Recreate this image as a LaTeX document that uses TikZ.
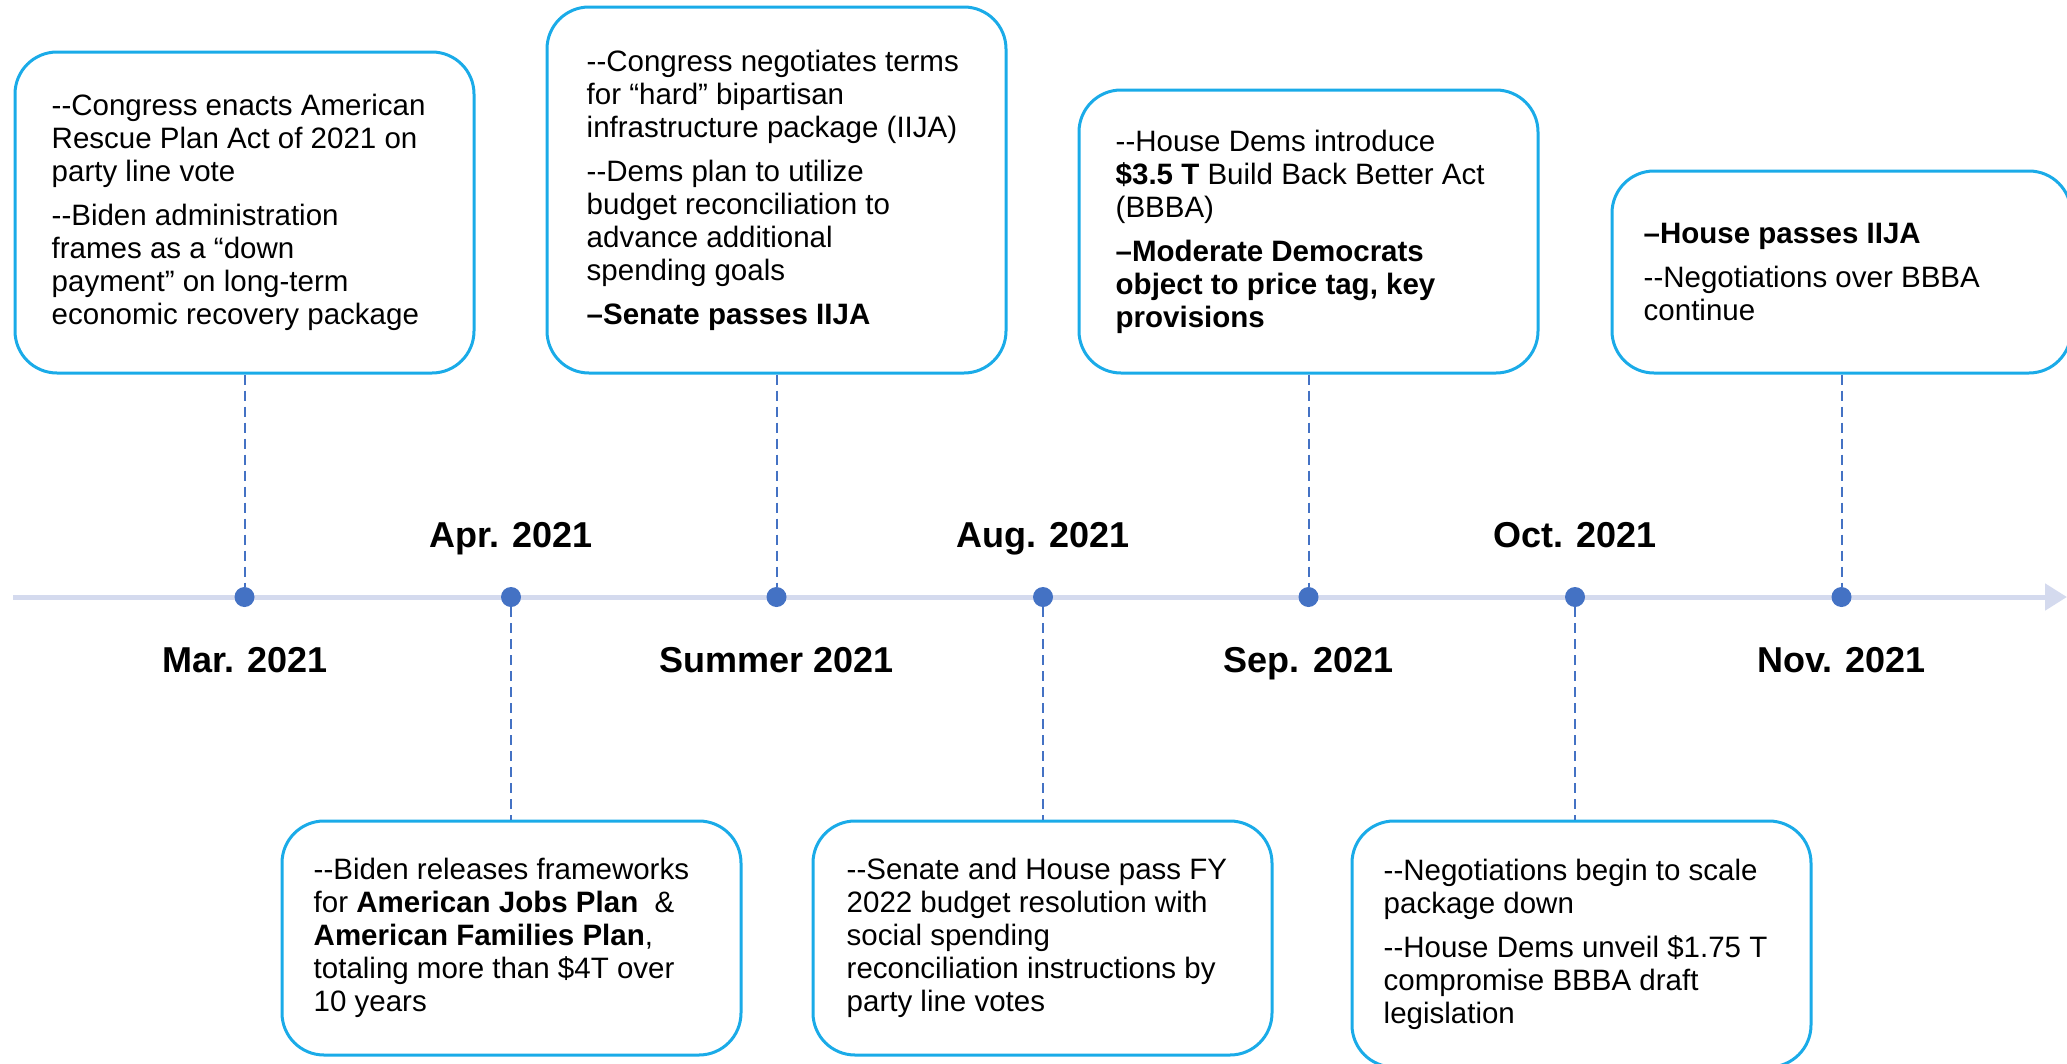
\documentclass[tikz,border=0pt]{standalone}
\usepackage{fontspec}
\setmainfont{Liberation Sans}
\usetikzlibrary{arrows.meta}
\definecolor{boxblue}{HTML}{1AABE8}
\definecolor{dotblue}{HTML}{4472C4}
\definecolor{tlgray}{HTML}{D4DAEE}
\tikzset{
  evbox/.style={draw=boxblue, line width=3pt, rounded corners=42pt, inner sep=0pt},
  evtext/.style={anchor=west, align=left, inner sep=0pt, font=\fontsize{29.5}{33}\selectfont},
  evdot/.style={circle, fill=dotblue, inner sep=0pt, minimum size=20pt},
  evlink/.style={draw=dotblue, line width=2pt, dash pattern=on 10pt off 6pt},
  datelabel/.style={font=\fontsize{36}{40}\selectfont\bfseries, anchor=base, inner sep=0pt},
  timeline/.style={draw=tlgray, line width=5pt, -{Triangle[length=22pt,width=26pt]}},
}
\begin{document}
\begin{tikzpicture}[x=1pt,y=-1pt]
\useasboundingbox (0,0) rectangle (2067,1063);
\clip (0,0) rectangle (2067,1063);
% timeline
\coordinate (tlstart) at (13,597);
\coordinate (tlend) at (2067,597);
\draw[timeline] (tlstart) -- (tlend);
% boxes
\node[evbox, minimum width=459pt, minimum height=321pt] (b1) at (244.5,212.5) {};
\node[evbox, minimum width=459pt, minimum height=366pt] (b2) at (776.5,190) {};
\node[evbox, minimum width=459pt, minimum height=283pt] (b3) at (1308.5,231.5) {};
\node[evbox, minimum width=459pt, minimum height=202pt] (b4) at (1841.5,272) {};
\node[evbox, minimum width=459pt, minimum height=234pt] (b5) at (511.5,938) {};
\node[evbox, minimum width=459pt, minimum height=234pt] (b6) at (1042.5,938) {};
\node[evbox, minimum width=459pt, minimum height=246pt] (b7) at (1581.5,944) {};
% box texts
\node[evtext] (t1) at ([xshift=38pt]b1.west) {-{}-Congress enacts American\\ Rescue Plan Act of 2021 on\\ party line vote\\[11pt] -{}-Biden administration\\ frames as a “down\\ payment” on long-term\\ economic recovery package};
\node[evtext] (t2) at ([xshift=41pt]b2.west) {-{}-Congress negotiates terms\\ for “hard” bipartisan\\ infrastructure package (IIJA)\\[11pt] -{}-Dems plan to utilize\\ budget reconciliation to\\ advance additional\\ spending goals\\[11pt] \bfseries –Senate passes IIJA};
\node[evtext] (t3) at ([xshift=38pt]b3.west) {-{}-House Dems introduce\\ \textbf{\$3.5 T} Build Back Better Act\\ (BBBA)\\[11pt] \bfseries –Moderate Democrats\\ \bfseries object to price tag, key\\ \bfseries provisions};
\node[evtext] (t4) at ([xshift=33pt]b4.west) {\bfseries –House passes IIJA\\[11pt] -{}-Negotiations over BBBA\\ continue};
\node[evtext] (t5) at ([xshift=33pt]b5.west) {-{}-Biden releases frameworks\\ for \textbf{American Jobs Plan}\ \ \&\\ \textbf{American Families Plan},\\ totaling more than \$4T over\\ 10 years};
\node[evtext] (t6) at ([xshift=35pt]b6.west) {-{}-Senate and House pass FY\\ 2022 budget resolution with\\ social spending\\ reconciliation instructions by\\ party line votes};
\node[evtext] (t7) at ([xshift=33pt]b7.west) {-{}-Negotiations begin to scale\\ package down\\[11pt] -{}-House Dems unveil \$1.75 T\\ compromise BBBA draft\\ legislation};
% dots
\node[evdot] (d1) at (244.5,597) {};
\node[evdot] (d2) at (511,597) {};
\node[evdot] (d3) at (776.5,597) {};
\node[evdot] (d4) at (1043,597) {};
\node[evdot] (d5) at (1308.5,597) {};
\node[evdot] (d6) at (1575,597) {};
\node[evdot] (d7) at (1841.5,597) {};
% connectors
\draw[evlink] (b1.south) -- (d1.north);
\draw[evlink] (b2.south) -- (d3.north);
\draw[evlink] (b3.south) -- (d5.north);
\draw[evlink] (b4.south) -- (d7.north);
\draw[evlink] (d2.south) -- (d2.south |- b5.north);
\draw[evlink] (d4.south) -- (d4.south |- b6.north);
\draw[evlink] (d6.south) -- (d6.south |- b7.north);
% date labels
\node[datelabel] (l1) at (245,672) {Mar. 2021};
\node[datelabel] (l2) at (511,547) {Apr. 2021};
\node[datelabel] (l3) at (776.5,672) {Summer 2021};
\node[datelabel] (l4) at (1043,547) {Aug. 2021};
\node[datelabel] (l5) at (1308.5,672) {Sep. 2021};
\node[datelabel] (l6) at (1575,547) {Oct. 2021};
\node[datelabel] (l7) at (1841.5,672) {Nov. 2021};
\end{tikzpicture}
\end{document}
